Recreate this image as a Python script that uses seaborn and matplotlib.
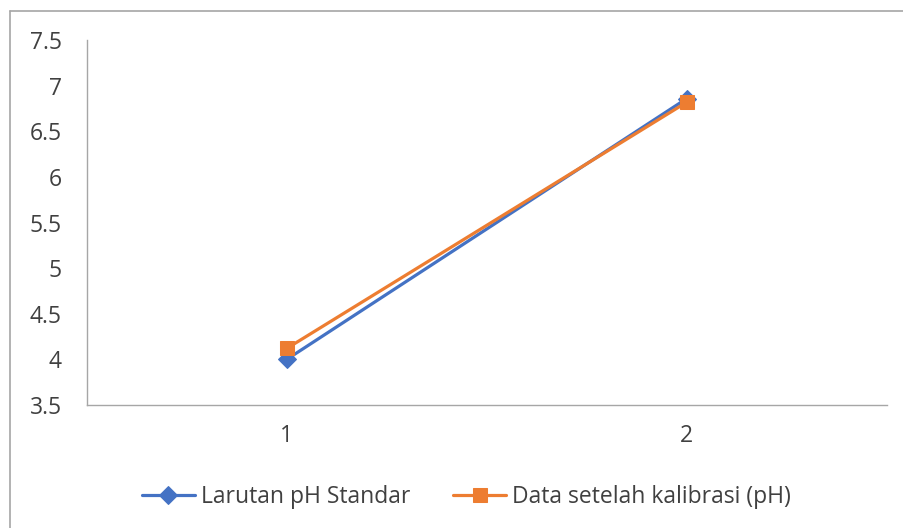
import numpy as np
import pandas as pd
import seaborn as sns
import matplotlib.pyplot as plt
from matplotlib.lines import Line2D

# data
categories = [1, 2]
larutan_standar = [4.00, 6.86]
data_kalibrasi = [4.12, 6.82]
series_names = ["Larutan pH Standar", "Data setelah kalibrasi (pH)"]
y_ticks = [3.5, 4, 4.5, 5, 5.5, 6, 6.5, 7, 7.5]

sns.set_style("white")
plt.rcParams['font.family'] = ['Open Sans', 'DejaVu Sans']
text_col = '#404040'
axis_col = '#A6A6A6'

fig = plt.figure(figsize=(9.04, 5.28), dpi=100)
ax = fig.add_axes([0.096, 0.233, 0.885, 0.691])

sns.lineplot(x=categories, y=larutan_standar, ax=ax, color='#4472C4', linewidth=2.3,
             marker='D', markersize=9, markeredgecolor='#4472C4', label=series_names[0])
sns.lineplot(x=categories, y=data_kalibrasi, ax=ax, color='#ED7D31', linewidth=2.3,
             marker='s', markersize=10, markeredgecolor='#ED7D31', label=series_names[1])

ax.set_xlim(0.5, 2.5)
ax.set_ylim(3.5, 7.5)
ax.set_xticks(categories)
ax.set_xticklabels([str(c) for c in categories])
ax.set_yticks(y_ticks)
ax.set_yticklabels([f"{t:g}" for t in y_ticks])
ax.tick_params(axis='both', length=0, labelsize=16.5, colors=text_col)
ax.tick_params(axis='y', pad=18)
ax.tick_params(axis='x', pad=14)

for side in ['top', 'right']:
    ax.spines[side].set_visible(False)
for side in ['left', 'bottom']:
    ax.spines[side].set_color(axis_col)
    ax.spines[side].set_linewidth(1.0)

handles, labels = ax.get_legend_handles_labels()
ax.get_legend().remove()
fig.legend(handles, labels, loc='center', bbox_to_anchor=(0.516, 0.059), ncol=2,
           frameon=False, fontsize=16.5, labelcolor=text_col, handlelength=2.3,
           columnspacing=1.9, handletextpad=0.25)

# chart frame: only the top and left edges are inside the picture
x0, y0 = 10 / 904, 1 - 11 / 528
fig.add_artist(Line2D([x0, 1], [y0, y0], transform=fig.transFigure, color=axis_col, lw=1.2))
fig.add_artist(Line2D([x0, x0], [0, y0], transform=fig.transFigure, color=axis_col, lw=1.2))

fig.savefig('out.png', dpi=100)
